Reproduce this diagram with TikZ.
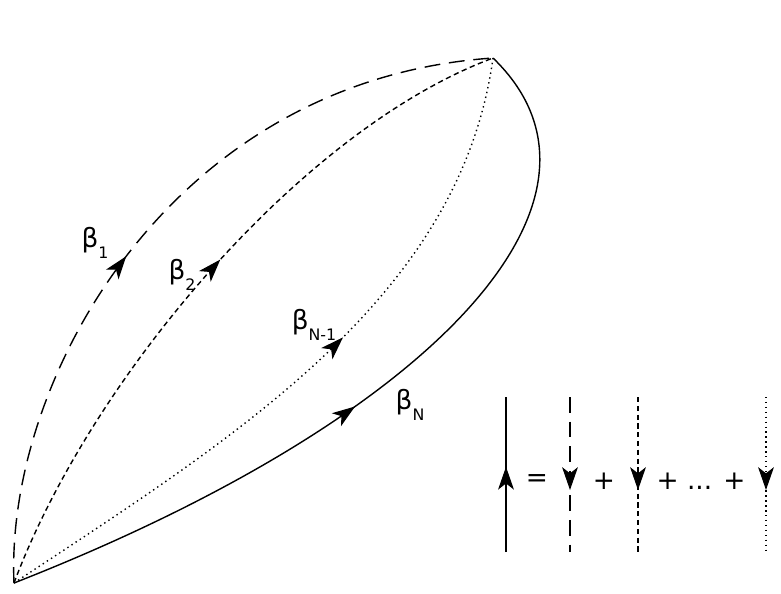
\documentclass[tikz,border=0pt]{standalone}
\usepackage{fontspec}
\setmainfont{DejaVu Sans}
\usetikzlibrary{arrows.meta,decorations.markings}

\tikzset{
	midarrow/.style={postaction={decorate},decoration={markings,
		mark=at position #1 with {\arrow[line width=0.6pt]{Stealth[length=13pt,width=9pt,inset=3.5pt]}}}},
	longdash/.style={dash pattern=on 9pt off 5pt},
	shortdash/.style={dash pattern=on 3pt off 2pt},
	fine/.style={dotted},
	blab/.style={font=\fontsize{15}{18}\selectfont},
	sym/.style={font=\fontsize{15}{18}\selectfont}
}
\newcommand{\bsub}[1]{β\raisebox{-0.8ex}{\fontsize{9}{10}\selectfont #1}}

\begin{document}
\begin{tikzpicture}[x=0.02cm,y=-0.02cm,line width=0.8pt]
	\useasboundingbox (0,0) rectangle (781,593);
	% Points
	\coordinate (pa) at (14,583);
	\coordinate (pb) at (493,58);

	% Paths
	\draw[longdash,midarrow=0.45] (pa) .. controls (5,380) and (170,80) .. (pb);
	\draw[shortdash,midarrow=0.53] (pa) .. controls (90,380) and (300,130) .. (pb);
	\draw[fine,midarrow=0.56] (pa) .. controls (230,440) and (460,300) .. (pb);
	\draw[midarrow=0.47] (pa) .. controls (430,420) and (640,200) .. (pb);

	% Labels
	\node[blab] (l1) at (95,243) {\bsub{1}};
	\node[blab] (l2) at (182,275) {\bsub{2}};
	\node[blab] (l3) at (314,325) {\bsub{N-1}};
	\node[blab] (l4) at (410,405) {\bsub{N}};

	% Legend
	\coordinate (s1) at (506,397); \coordinate (s2) at (506,552);
	\coordinate (d1) at (570,397); \coordinate (d2) at (570,552);
	\coordinate (e1) at (638,397); \coordinate (e2) at (638,552);
	\coordinate (f1) at (766,397); \coordinate (f2) at (766,552);
	\draw[midarrow=0.55] (s2) -- (s1);
	\draw[longdash,midarrow=0.6] (d1) -- (d2);
	\draw[shortdash,midarrow=0.6] (e1) -- (e2);
	\draw[fine,midarrow=0.6] (f1) -- (f2);
	\node[sym] (eq) at (537,481) {=};
	\node[sym] (p1) at (604,481) {+};
	\node[sym] (p2) at (701,481) {+ ... +};
\end{tikzpicture}
\end{document}
